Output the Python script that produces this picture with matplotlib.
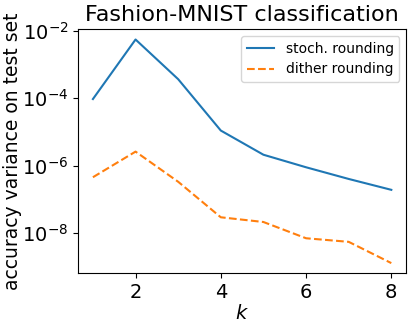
import matplotlib
matplotlib.use("Agg")
import matplotlib.pyplot as plt

# data
k = [1, 2, 3, 4, 5, 6, 7, 8]
stoch_var = [9.5e-5, 5.6e-3, 3.7e-4, 1.1e-5, 2.1e-6, 8.9e-7, 4.0e-7, 1.9e-7]
dither_var = [4.5e-7, 2.6e-6, 3.3e-7, 2.9e-8, 2.1e-8, 6.9e-9, 5.4e-9, 1.26e-9]

fig = plt.figure(figsize=(4.16, 3.26), dpi=100)
ax = fig.add_axes([0.1875, 0.163, 0.789, 0.748])
ax.plot(k, stoch_var, '-', label='stoch. rounding')
ax.plot(k, dither_var, '--', label='dither rounding')
ax.set_yscale('log')
ax.set_ylim(10**-9.19, 10**-1.94)
ax.set_title('Fashion-MNIST classification', fontsize=16)
ax.set_xlabel('$k$', fontsize=14, labelpad=2)
ax.set_ylabel('accuracy variance on test set', fontsize=13.5, labelpad=0)
ax.tick_params(labelsize=14)
ax.legend(fontsize=10)
plt.savefig('out.png', dpi=100)
